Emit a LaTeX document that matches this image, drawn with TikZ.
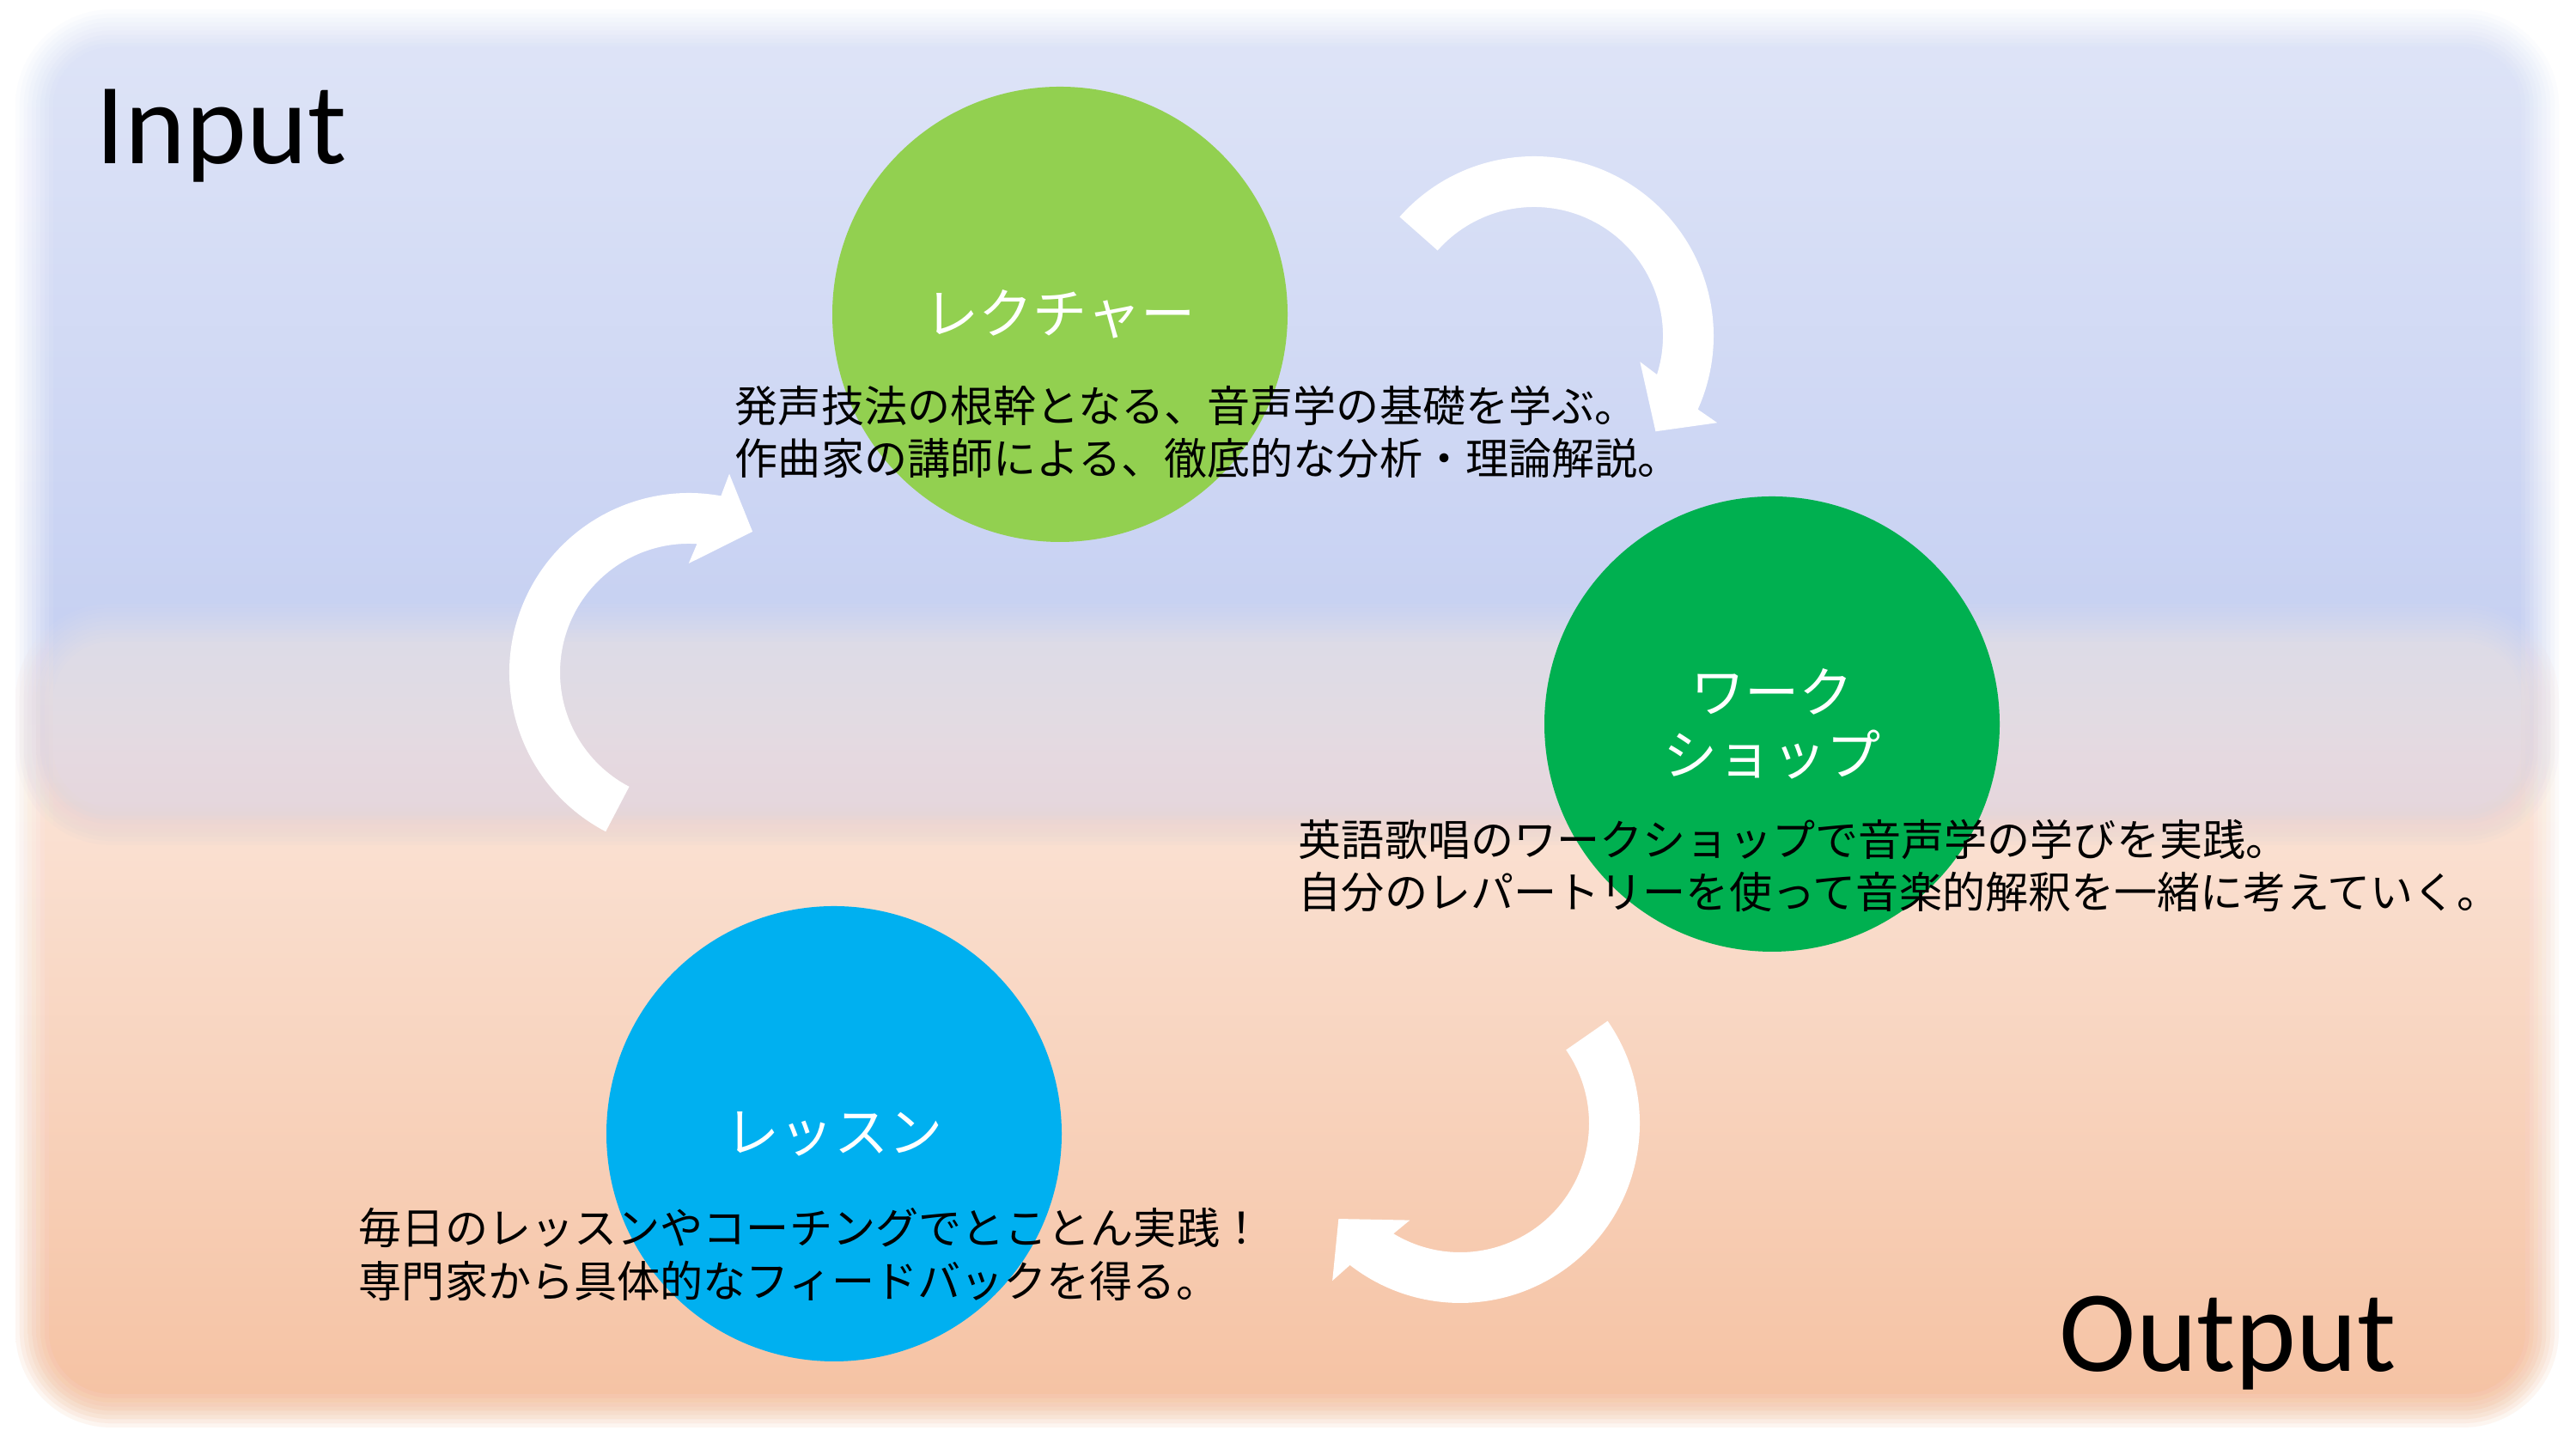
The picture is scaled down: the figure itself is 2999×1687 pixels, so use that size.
\documentclass[tikz,border=0pt]{standalone}
\usepackage{fontspec}
\newfontfamily\jp{Noto Sans CJK JP}
\newfontfamily\lat{Carlito}
\definecolor{lgreen}{HTML}{92D050}
\definecolor{dgreen}{HTML}{00B050}
\definecolor{lblue}{HTML}{00B0F0}
\definecolor{blueTop}{RGB}{222,228,247}
\definecolor{blueMid}{RGB}{199,209,242}
\definecolor{blueLow}{RGB}{214,210,230}
\definecolor{peachTop}{RGB}{252,236,228}
\definecolor{peachBot}{RGB}{245,193,161}
% blue band shading: rectangle from y=700 to y=1687 (the central 50bp span it)
\pgfdeclareverticalshading{bluesh}{100bp}{color(0bp)=(blueLow); color(26.3bp)=(blueLow);
  color(38.3bp)=(blueMid); color(73.3bp)=(blueTop); color(100bp)=(blueTop)}
% soft-edged rounded box made of stacked layers
\newcommand\softlayers[8]{%
  \foreach \k in {1,...,10}{%
    \pgfmathsetmacro\ins{-22+(\k-1)*44/9}%
    \pgfmathsetmacro\al{(#5/10)/(1-#5*(\k-1)/10)}%
    \pgfmathsetmacro\rr{(90-\ins)*0.25}%
    \pgfmathsetmacro\xa{#1+\ins}\pgfmathsetmacro\ya{#2+\ins}%
    \pgfmathsetmacro\xb{#3-\ins}\pgfmathsetmacro\yb{#4-\ins}%
    \begin{scope}
      \clip[rounded corners=\rr pt] (\xa,\ya) rectangle (\xb,\yb);
      \shade[#6,fill opacity=\al] (0,#7) rectangle (2999,#8);
    \end{scope}
  }%
}
% curved block arrow: centre x, centre y, tail angle
\newcommand\cycarrow[3]{%
  \pgfmathsetmacro\aA{#3-162.7}%
  \pgfmathsetmacro\aB{#3-163.9}%
  \pgfmathsetmacro\aC{#3-176.7}%
  \pgfmathsetmacro\aD{#3-152.3}%
  \pgfmathsetmacro\aE{#3-156}%
  \fill[arrowfill] ([shift={(#1,#2)}]#3:209) arc[start angle=#3,end angle=\aA,radius=209]
    -- ([shift={(#1,#2)}]\aB:236) -- ([shift={(#1,#2)}]\aC:180) -- ([shift={(#1,#2)}]\aD:127)
    -- ([shift={(#1,#2)}]\aE:150) arc[start angle=\aE,end angle=#3,radius=150] -- cycle;
}
\begin{document}
\begin{tikzpicture}[x=0.25pt,y=0.25pt,
  arrowfill/.style={fill=white},
  stage/.style={circle,inner sep=0pt,minimum size=132.5pt,text=white,align=center,
    font=\jp\fontsize{15.8}{18.25}\selectfont},
  desc/.style={anchor=west,inner sep=0pt,align=left,text=black,
    font=\jp\fontsize{12.53}{15.3}\selectfont},
  corner/.style={anchor=base west,inner sep=0pt,font=\lat\fontsize{33.7}{40}\selectfont}]
\useasboundingbox (0,0) rectangle (2999,1687);
\fill[white] (0,0) rectangle (2999,1687);
% peach (output) band
\softlayers{40}{47}{2957}{962}{1}{top color=peachTop,bottom color=peachBot}{20}{990}
% blue (input) band
\softlayers{40}{725}{2957}{1654}{1}{shading=bluesh}{700}{1687}
% peach again, half strength, so that the overlap is a mix of both
\softlayers{40}{47}{2957}{962}{0.5}{top color=peachTop,bottom color=peachBot}{20}{990}
% arrows
\cycarrow{1786}{1296}{138.5}
\cycarrow{802}{904}{242.4}
\cycarrow{1700}{379}{34.8}
% stages
\node[stage,fill=lgreen] (lecture) at (1234,1321) {レクチャー};
\node[stage,fill=dgreen] (workshop) at (2063,844) {ワーク\\ショップ};
\node[stage,fill=lblue] (lesson) at (971,367) {レッスン};
% descriptions
\node[desc] (lecdesc) at (855,1184) {発声技法の根幹となる、音声学の基礎を学ぶ。\\作曲家の講師による、徹底的な分析・理論解説。};
\node[desc] (wsdesc) at (1511,679) {英語歌唱のワークショップで音声学の学びを実践。\\自分のレパートリーを使って音楽的解釈を一緒に考えていく。};
\node[desc] (lesdesc) at (417,226.5) {毎日のレッスンやコーチングでとことん実践！\\専門家から具体的なフィードバックを得る。};
% corner words
\node[corner] (input) at (111,1496) {Input};
\node[corner] (output) at (2397,90) {Output};
\end{tikzpicture}
\end{document}
